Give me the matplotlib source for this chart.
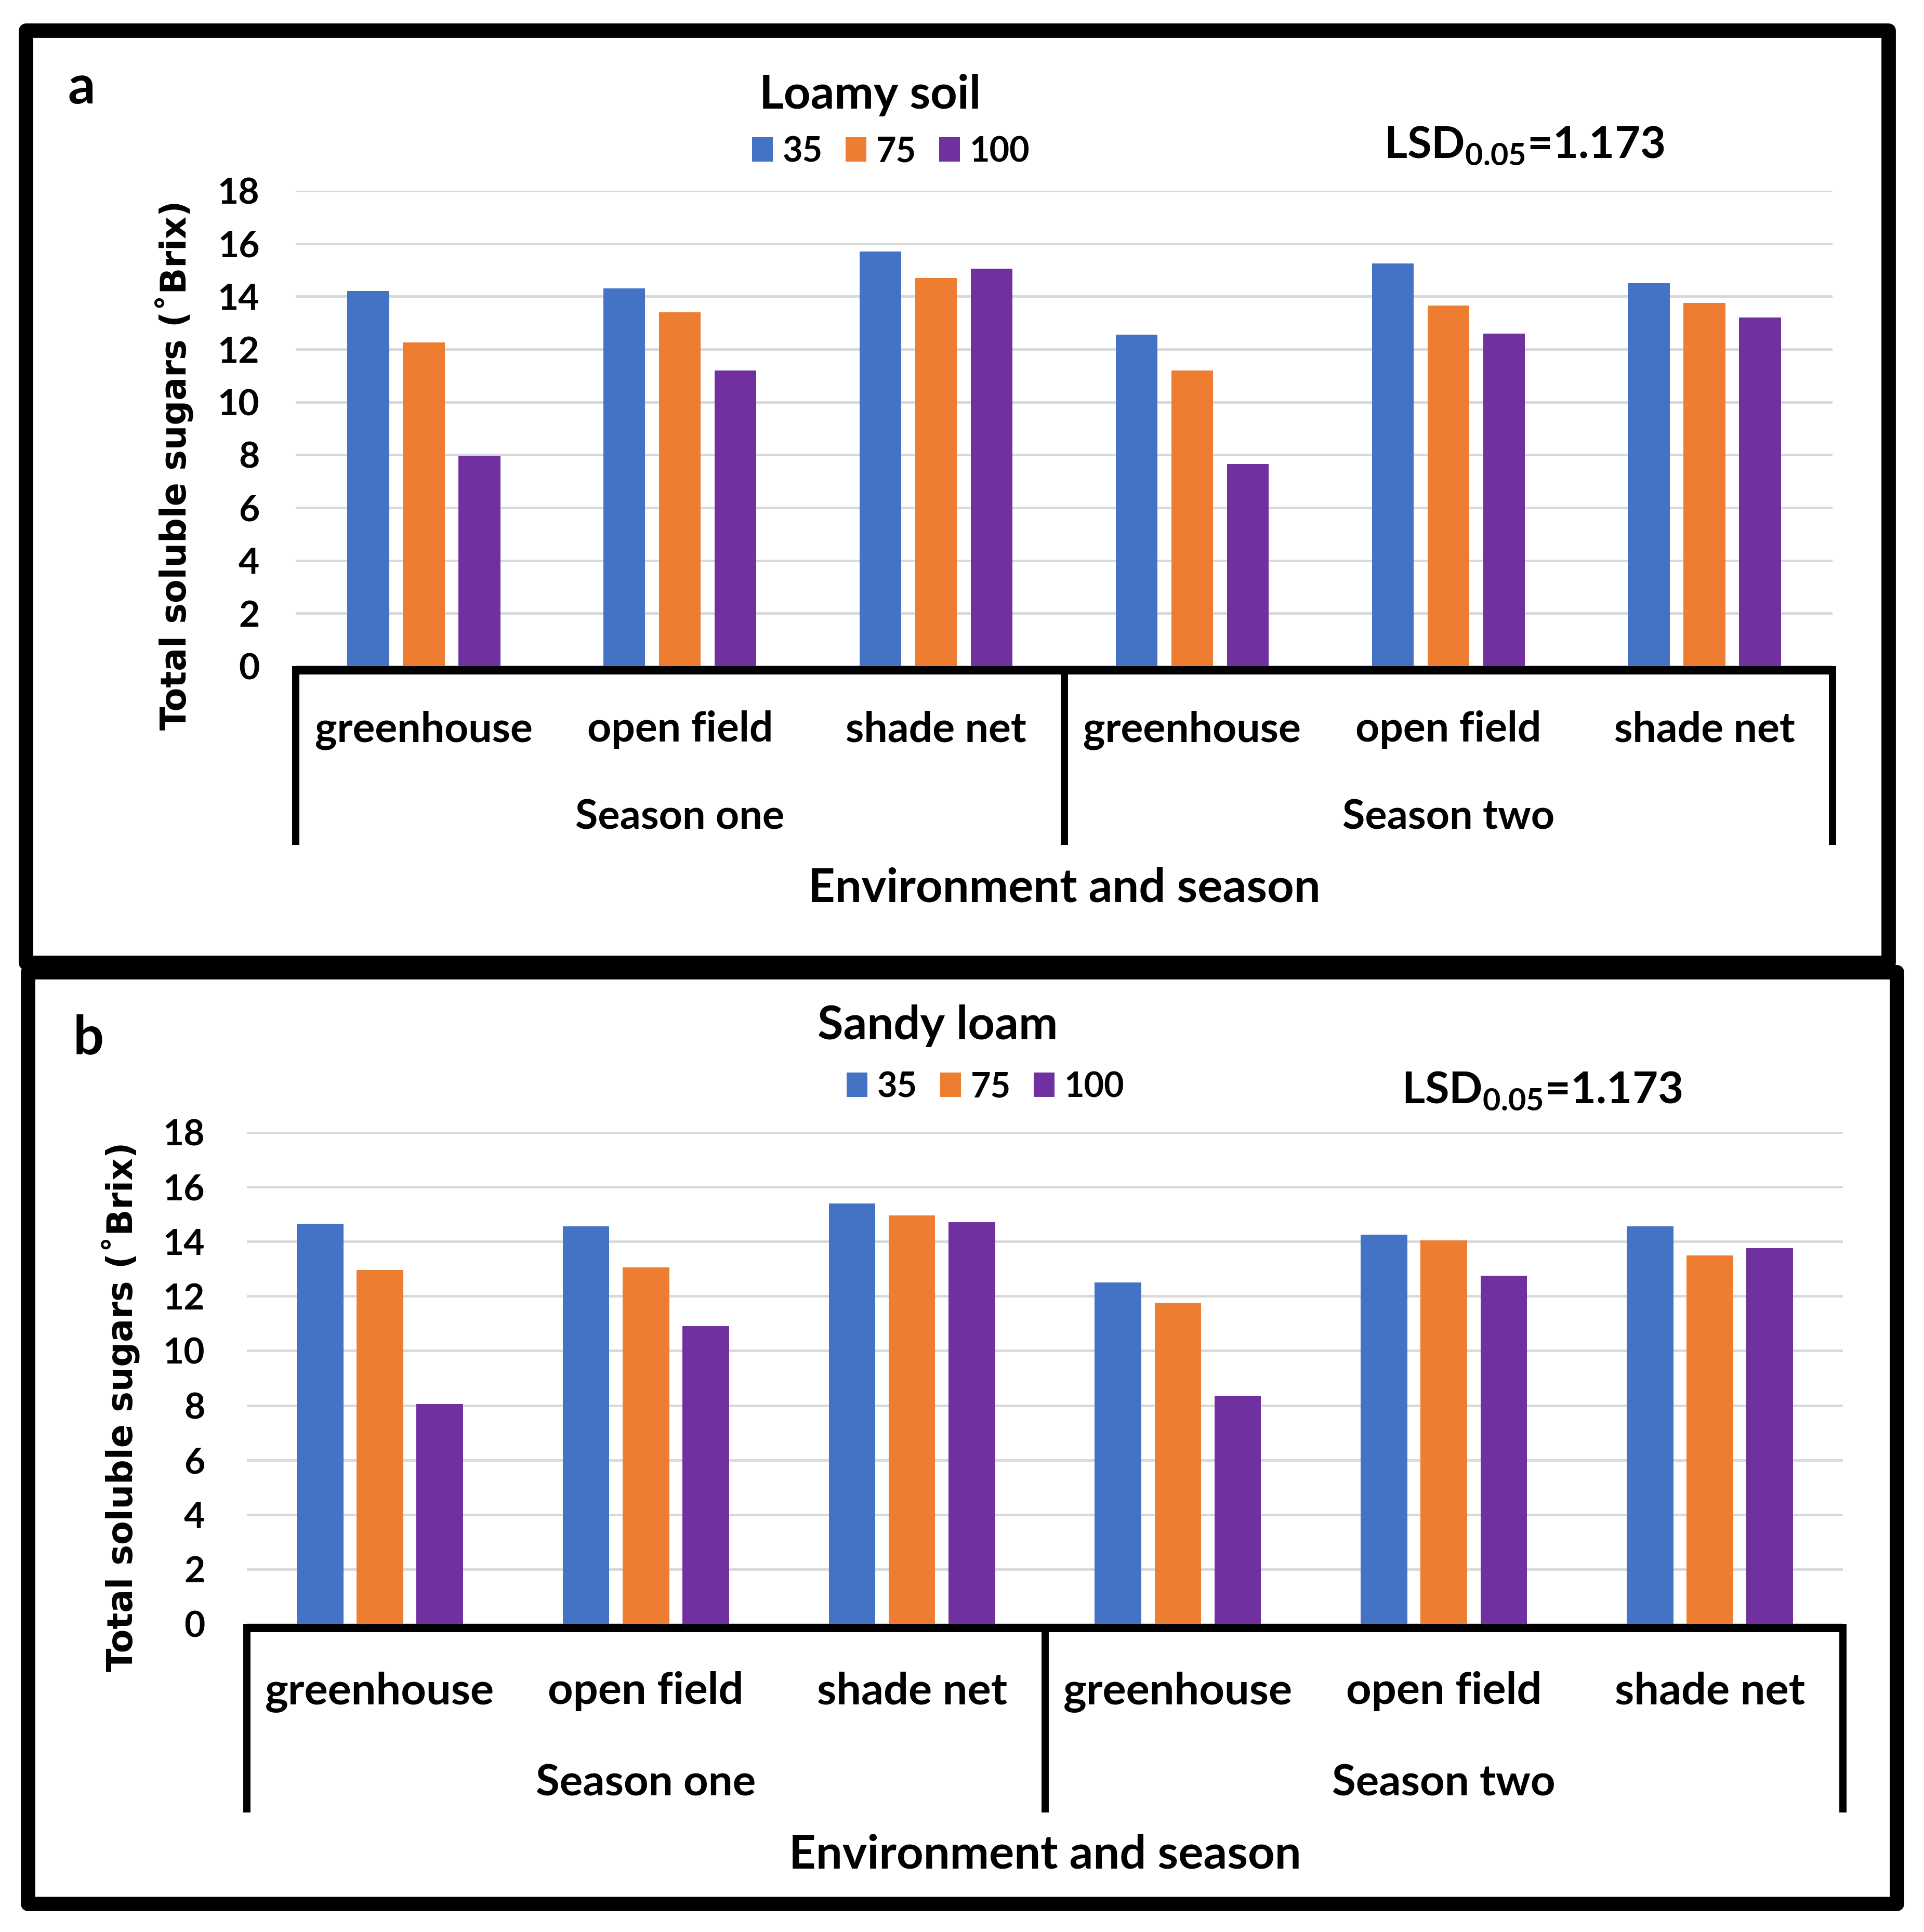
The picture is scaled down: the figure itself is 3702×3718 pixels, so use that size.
"""Total soluble sugars by environment and season, loamy soil vs sandy loam."""

import matplotlib

matplotlib.use("Agg")
import matplotlib.pyplot as plt
import numpy as np
from matplotlib.patches import Rectangle
from matplotlib.transforms import blended_transform_factory

W, H = 3702, 3718
DPI = 100

environments = ["greenhouse", "open field", "shade net"] * 2
seasons = ["Season one", "Season two"]
levels = ["35", "75", "100"]
colors = ["#4472C4", "#ED7D31", "#7030A0"]

loamy_35 = [14.2, 14.3, 15.7, 12.55, 15.25, 14.5]
loamy_75 = [12.25, 13.4, 14.7, 11.2, 13.65, 13.75]
loamy_100 = [7.95, 11.2, 15.05, 7.65, 12.6, 13.2]

sandy_35 = [14.65, 14.55, 15.4, 12.5, 14.25, 14.55]
sandy_75 = [12.95, 13.05, 14.95, 11.75, 14.05, 13.5]
sandy_100 = [8.05, 10.9, 14.7, 8.35, 12.75, 13.75]

lsd_text = r"LSD$_{0.05}$=1.173"

plt.rcParams["font.family"] = ["Lato", "DejaVu Sans"]
plt.rcParams["font.weight"] = "bold"
plt.rcParams["mathtext.fontset"] = "custom"
plt.rcParams["mathtext.rm"] = "Lato:bold"
plt.rcParams["mathtext.bf"] = "Lato:bold"


def fx(px):
    return px / W


def fy(py):
    return 1.0 - py / H


fig = plt.figure(figsize=(W / DPI, H / DPI), dpi=DPI)
fig.patch.set_facecolor("white")

panels = [
    dict(
        letter="a", title="Loamy soil", series=(loamy_35, loamy_75, loamy_100),
        box=(50, 59, 3634, 1853), axes=(569, 367, 3526, 1282),
        width=0.163, step=0.217, sep_bottom=1626, pad=50,
        cat_y=1427, season_y=1595, xtitle_y=1736, cat_fs=58, season_fs=57,
        letter_xy=(157, 199), title_xy=(1674, 209), legend_xy=(1714, 292),
        lsd_xy=(2663, 304), ylabel_xy=(335, 895),
    ),
    dict(
        letter="b", title="Sandy loam", series=(sandy_35, sandy_75, sandy_100),
        box=(54, 1871, 3650, 3664), axes=(475, 2179, 3546, 3125),
        width=0.175, step=0.225, sep_bottom=3488, pad=58,
        cat_y=3279, season_y=3455, xtitle_y=3595, cat_fs=61, season_fs=60,
        letter_xy=(170, 2028), title_xy=(1804, 2000), legend_xy=(1896, 2092),
        lsd_xy=(2697, 2123), ylabel_xy=(232, 2707),
    ),
]

for p in panels:
    # outer frame
    bx0, by0, bx1, by1 = p["box"]
    fig.patches.append(Rectangle((fx(bx0), fy(by1)), fx(bx1) - fx(bx0), fy(by0) - fy(by1),
                                 transform=fig.transFigure, fill=False, ec="black",
                                 lw=20, joinstyle="round", zorder=0))

    ax0, ay0, ax1, ay1 = p["axes"]
    ax = fig.add_axes([fx(ax0), fy(ay1), fx(ax1) - fx(ax0), fy(ay0) - fy(ay1)])
    x = np.arange(len(environments))
    for k, (vals, c, lab) in enumerate(zip(p["series"], colors, levels)):
        ax.bar(x + (k - 1) * p["step"], vals, width=p["width"], color=c, label=lab, zorder=3)

    ax.set_xlim(-0.5, 5.5)
    ax.set_ylim(0, 18)
    ax.set_yticks(range(0, 19, 2))
    ax.yaxis.grid(True, color="#D9D9D9", lw=3.5)
    ax.set_axisbelow(True)
    for s in ("left", "right", "top"):
        ax.spines[s].set_visible(False)
    ax.spines["bottom"].set_linewidth(11.5)
    ax.spines["bottom"].set_position(("outward", 5.7))
    ax.spines["bottom"].set_capstyle("butt")
    ax.set_xticks([])
    ax.tick_params(axis="y", length=0, pad=p["pad"], labelsize=50)

    # multi-level category axis
    tr = blended_transform_factory(ax.transData, fig.transFigure)
    for xs in (-0.5, 2.5, 5.5):
        ax.plot([xs, xs], [fy(ay1), fy(p["sep_bottom"])], transform=tr, color="black",
                lw=10, clip_on=False, solid_capstyle="butt")
    for i, env in enumerate(environments):
        ax.text(i, fy(p["cat_y"]), env, transform=tr, ha="center", va="baseline",
                fontsize=p["cat_fs"])
    for j, season in enumerate(seasons):
        ax.text(3 * j + 1, fy(p["season_y"]), season, transform=tr, ha="center",
                va="baseline", fontsize=p["season_fs"])
    ax.text(2.5, fy(p["xtitle_y"]), "Environment and season", transform=tr,
            ha="center", va="baseline", fontsize=65)

    fig.text(fx(p["ylabel_xy"][0]), fy(p["ylabel_xy"][1]), "Total soluble sugars (˚Brix)",
             rotation=90, ha="center", va="center", fontsize=48,
             family=["DejaVu Sans"], fontweight="bold")

    fig.text(fx(p["letter_xy"][0]), fy(p["letter_xy"][1]), p["letter"], ha="center",
             va="baseline", fontsize=75)
    fig.text(fx(p["title_xy"][0]), fy(p["title_xy"][1]), p["title"], ha="center",
             va="baseline", fontsize=65)
    fig.text(fx(p["lsd_xy"][0]), fy(p["lsd_xy"][1]), lsd_text, ha="left",
             va="baseline", fontsize=61)

    ax.legend(loc="center", bbox_to_anchor=(fx(p["legend_xy"][0]), fy(p["legend_xy"][1])),
              bbox_transform=fig.transFigure, ncol=3, frameon=False, fontsize=48,
              handlelength=0.6, handleheight=0.7, handletextpad=0.28,
              columnspacing=0.66, borderpad=0, borderaxespad=0)

fig.savefig("out.png", dpi=DPI, facecolor="white")
